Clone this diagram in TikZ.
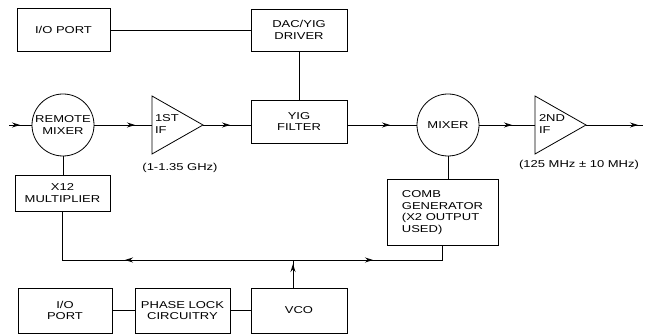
\documentclass[tikz,border=0pt]{standalone}
\usepackage{fontspec}
\setmainfont{Liberation Sans}[FakeStretch=1.3]
\usetikzlibrary{shapes.geometric,arrows.meta,decorations.markings}
\begin{document}
\begin{tikzpicture}[x=1pt,y=-1pt,
  every node/.style={font=\fontsize{10}{11.7}\selectfont, inner sep=0pt, outer sep=0pt},
  box/.style={draw, line width=0.8pt, align=center},
  circ/.style={draw, circle, minimum size=62pt, line width=0.8pt, align=center},
  amp/.style={draw, isosceles triangle, isosceles triangle stretches, minimum width=58pt, minimum height=51pt, line width=0.8pt, anchor=west},
  wire/.style={line width=0.8pt},
  arrowat/.style={postaction={decorate}, decoration={markings, mark=at position #1 with {\arrow{Stealth[length=8pt,width=5pt]}}}},
]
\useasboundingbox (0,0) rectangle (647,336);
% top row
\node[box, minimum width=93pt, minimum height=43pt] (io1) at (63.5,30) {I/O PORT};
\node[box, minimum width=96pt, minimum height=42pt] (dac) at (299,30) {DAC/YIG\\DRIVER};
% signal row
\node[box, minimum width=96pt, minimum height=43pt] (yig) at (299,121.5) {YIG\\FILTER};
\node[circ] (rm) at (63,125) {REMOTE\\MIXER};
\node[amp] (a1) at (152,125) {};
\node[anchor=west, align=left] (a1t) at (155,124) {1ST\\IF};
\node[circ] (mx) at (448,125) {MIXER};
\node[amp] (a2) at (535,125) {};
\node[anchor=west, align=left] (a2t) at (539,124) {2ND\\IF};
\node (l1) at (180,168) {(1-1.35 GHz)};
\node (l2) at (579,165) {(125 MHz ± 10 MHz)};
% middle
\node[box, minimum width=95pt, minimum height=36pt] (mult) at (62.5,193) {X12\\MULTIPLIER};
\node[box, minimum width=111pt, minimum height=66pt, align=left] (comb) at (442.5,212.5) {COMB\\GENERATOR\\(X2 OUTPUT\\USED)};
% bottom row
\node[box, minimum width=94pt, minimum height=45pt] (io2) at (65,310.5) {I/O\\PORT};
\node[box, minimum width=95pt, minimum height=45pt] (pll) at (182.5,310.5) {PHASE LOCK\\CIRCUITRY};
\node[box, minimum width=96pt, minimum height=45pt] (vco) at (299,310.5) {VCO};
% coordinates
\coordinate (in) at (9,125);
\coordinate (out) at (643,125);
\coordinate (jn) at (293,260);
% wires
\draw[wire, arrowat=11pt] (in) -- (rm.west);
\draw[wire, arrowat=41pt] (rm.east) -- (a1.west);
\draw[wire, arrowat=27pt] (a1.east) -- (a1.east -| yig.west);
\draw[wire, arrowat=43pt] (yig.east |- mx.west) -- (mx.west);
\draw[wire, arrowat=33pt] (mx.east) -- (a2.west);
\draw[wire, arrowat=52pt] (a2.east) -- (out);
\draw[wire] (io1) -- (dac);
\draw[wire] (dac) -- (yig);
\draw[wire] (rm.south) -- (rm.south |- mult.north);
\draw[wire] (mx.south) -- (mx.south |- comb.north);
\draw[wire, arrowat=24pt] (vco.north -| jn) -- (jn);
\draw[wire, arrowat=168pt] (jn) -| (mult.south);
\draw[wire, arrowat=80pt] (jn) -| (comb.south);
\draw[wire] (io2) -- (pll);
\draw[wire] (pll) -- (vco);
\end{tikzpicture}
\end{document}
